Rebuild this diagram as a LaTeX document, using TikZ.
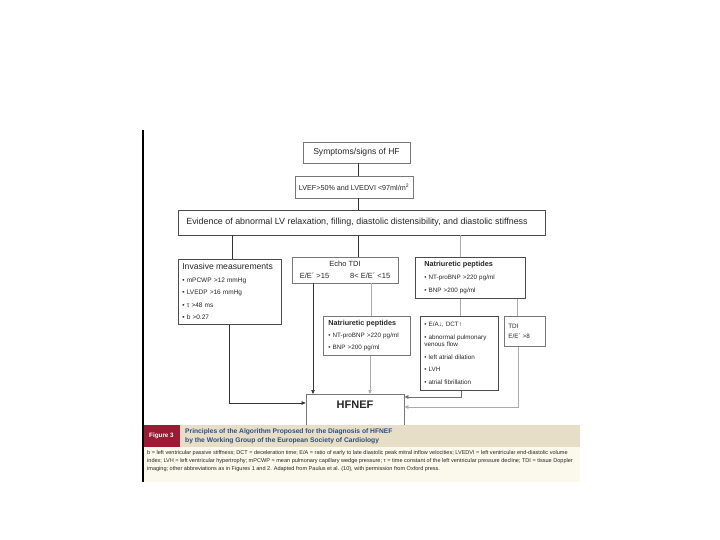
\documentclass[tikz,border=0pt]{standalone}
\usepackage{fontspec}
\setmainfont{Liberation Sans}
\usetikzlibrary{arrows.meta}
\definecolor{boxdk}{HTML}{4A4A4A}
\definecolor{boxmd}{HTML}{777777}
\definecolor{linedk}{HTML}{333333}
\definecolor{linemd}{HTML}{6E6E6E}
\definecolor{linelt}{HTML}{ABABAB}
\definecolor{txt}{HTML}{262626}
\definecolor{figred}{HTML}{9C1A32}
\definecolor{band}{HTML}{E7DEC7}
\definecolor{cream}{HTML}{FBF8EC}
\definecolor{titleblue}{HTML}{2E4E7C}
\newcommand\fsz[2]{\fontsize{#1}{#2}\selectfont}
\begin{document}
\begin{tikzpicture}[x=1pt,y=-1pt,
  box/.style={draw=boxmd, line width=0.7pt, fill=white, inner sep=0pt, text=txt},
  dkbox/.style={box, draw=boxdk},
  multibox/.style={anchor=north west, align=left, inner xsep=4pt},
  dk/.style={draw=linedk, line width=0.7pt},
  md/.style={draw=linemd, line width=0.7pt},
  lt/.style={draw=linelt, line width=0.7pt},
  arr/.style={-{Triangle[length=4pt,width=3.4pt]}}]
\useasboundingbox[fill=white] (0,0) rectangle (720,540);

% x and y levels
\coordinate (X229) at (229,0);
\coordinate (X232) at (232,0);
\coordinate (X313) at (313,0);
\coordinate (X358) at (358,0);
\coordinate (X370) at (370,0);
\coordinate (X371) at (371,0);
\coordinate (X460) at (460,0);
\coordinate (X461) at (461,0);
\coordinate (X517) at (517,0);
\coordinate (X518) at (518,0);
\coordinate (Y397) at (0,397);
\coordinate (Y403) at (0,403);
\coordinate (Y407) at (0,407);

% top chain
\node[box, minimum width=107pt, minimum height=21pt, font=\fsz{8.6}{12}] (symp) at (356.5,152.5) {Symptoms/signs of HF};
\node[box, minimum width=118pt, minimum height=22pt, font=\fsz{7.2}{12}] (lvef) at (354,187) {LVEF>50\% and LVEDVI <97ml/m\textsuperscript{2}};
\node[dkbox, minimum width=367pt, minimum height=25pt, font=\fsz{8.9}{12}] (evid) at (361.5,222.5) {Evidence of abnormal LV relaxation, filling, diastolic distensibility, and diastolic stiffness\hspace*{9pt}};

% second row
\node[dkbox, multibox, minimum width=103pt, minimum height=65pt, text width=95pt, font=\fsz{6.5}{12.5}] (inv) at (178,259)
  {{\fsz{8.6}{12.5}Invasive measurements}\\• mPCWP >12 mmHg\\• LVEDP >16 mmHg\\• τ >48 ms\\• b >0.27};
\node[box, minimum width=106pt, minimum height=26pt, align=center, font=\fsz{7.5}{12}] (echo) at (345,270)
  {Echo TDI\\E/E´ >15\hspace{21pt}8< E/E´ <15};
\node[dkbox, multibox, minimum width=110pt, minimum height=41pt, text width=92pt, inner xsep=9pt, font=\fsz{6.3}{13}] (npr) at (415,257)
  {{\bfseries\fsz{7.3}{13}Natriuretic peptides}\\• NT-proBNP >220 pg/ml\\• BNP >200 pg/ml};

% third row
\node[box, multibox, minimum width=87pt, minimum height=39pt, text width=77pt, inner xsep=5pt, font=\fsz{6.3}{12}] (npm) at (323,316)
  {{\bfseries\fsz{7.2}{12}Natriuretic peptides}\\• NT-proBNP >220 pg/ml\\• BNP >200 pg/ml};
\node[dkbox, multibox, minimum width=78pt, minimum height=74pt, text width=70pt, inner xsep=4pt, font=\fsz{6.3}{12.5}] (ea) at (420,316)
  {• E/A↓, DCT↑\\• abnormal pulmonary\\[-5pt]venous flow\\• left atrial dilation\\• LVH\\• atrial fibrillation};
\node[box, multibox, minimum width=41pt, minimum height=30pt, text width=33pt, inner xsep=4pt, font=\fsz{6.3}{10}] (tdi) at (504,316)
  {TDI\\E/E´ >8};

% result
\node[box, anchor=north, minimum width=98pt, minimum height=40pt, text height=8pt, text depth=20pt, font=\bfseries\fsz{11}{13}] (hf) at (355,394) {HFNEF};

% connectors
\draw[dk] (symp.south -| X358) -- (lvef.north -| X358);
\draw[dk] (lvef.south -| X358) -- (evid.north -| X358);
\draw[dk] (evid.south -| X232) -- (inv.north -| X232);
\draw[dk] (evid.south -| X358) -- (echo.north -| X358);
\draw[lt] (evid.south -| X460) -- (npr.north -| X460);
\draw[dk,arr] (echo.south -| X313) -- (hf.north -| X313);
\draw[lt] (echo.south -| X371) -- (npm.north -| X371);
\draw[lt,arr] (npm.south -| X370) -- (hf.north -| X370);
\draw[lt] (npr.south -| X460) -- (ea.north -| X460);
\draw[lt] (npr.south -| X517) -- (tdi.north -| X517);
\draw[md,arr] (ea.south -| X461) |- (hf.east |- Y397);
\draw[lt,arr] (tdi.south -| X518) |- (hf.east |- Y407);
\draw[dk,arr] (inv.south -| X229) |- (hf.west |- Y403);

% caption
\fill[band] (143,425) rectangle (580,447);
\fill[figred] (143,425) rectangle (180,447);
\fill[cream] (143,447) rectangle (580,482);
\draw[line width=1.1pt] (143,130) -- (143,482);
\node[text=white, font=\bfseries\fsz{6.3}{8}] (fignum) at (161.5,436) {Figure 3};
\node[anchor=west, align=left, text=titleblue, inner sep=0pt, font=\bfseries\fsz{6.7}{9.5}] (figtitle) at (185,436.5)
  {Principles of the Algorithm Proposed for the Diagnosis of HFNEF\\by the Working Group of the European Society of Cardiology};
\node[anchor=north west, align=left, text=txt, inner sep=0pt, font=\fsz{5.55}{8}] (figtext) at (147,450)
  {b = left ventricular passive stiffness; DCT = deceleration time; E/A = ratio of early to late diastolic peak mitral inflow velocities; LVEDVI = left ventricular end-diastolic volume\\
   index; LVH = left ventricular hypertrophy; mPCWP = mean pulmonary capillary wedge pressure; τ = time constant of the left ventricular pressure decline; TDI = tissue Doppler\\
   imaging; other abbreviations as in Figures 1 and 2. Adapted from Paulus et al. (10), with permission from Oxford press.};
\end{tikzpicture}
\end{document}
